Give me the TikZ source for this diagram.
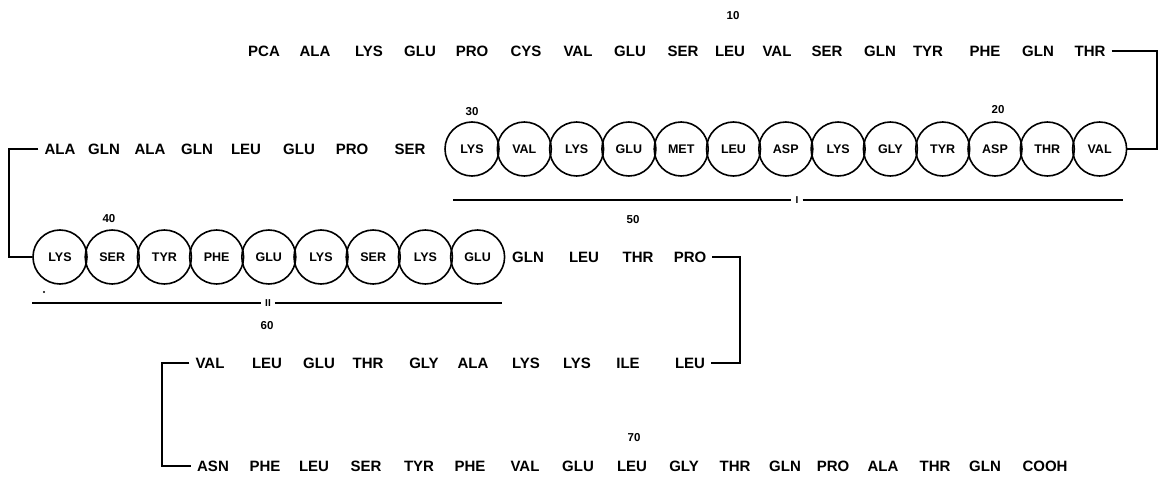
\documentclass[tikz,border=0pt]{standalone}
\usepackage{fontspec}
\setmainfont{Liberation Sans}
\begin{document}
\begin{tikzpicture}[x=1pt, y=-1pt,
  res/.style={inner xsep=6pt, inner ysep=0pt, text height=10.5pt, text depth=0pt,
    font=\fontsize{15}{15}\selectfont\bfseries},
  hel/.style={draw, circle, line width=1.6pt, minimum size=54pt, inner sep=0pt,
    text height=9pt, text depth=0pt, font=\fontsize{12.5}{12.5}\selectfont\bfseries},
  num/.style={inner sep=0pt, font=\fontsize{11.5}{11.5}\selectfont\bfseries},
  tag/.style={inner xsep=4pt, inner ysep=0pt, font=\fontsize{10}{10}\selectfont\bfseries},
  link/.style={line width=1.8pt}]

\useasboundingbox (0,0) rectangle (1158,481);

%ROW 1
\node[res] (r1) at (264,51) {PCA};
\node[res] (r2) at (315,51) {ALA};
\node[res] (r3) at (369,51) {LYS};
\node[res] (r4) at (420,51) {GLU};
\node[res] (r5) at (472,51) {PRO};
\node[res] (r6) at (526,51) {CYS};
\node[res] (r7) at (578,51) {VAL};
\node[res] (r8) at (630,51) {GLU};
\node[res] (r9) at (683,51) {SER};
\node[res] (r10) at (730,51) {LEU};
\node[res] (r11) at (777,51) {VAL};
\node[res] (r12) at (827,51) {SER};
\node[res] (r13) at (880,51) {GLN};
\node[res] (r14) at (928,51) {TYR};
\node[res] (r15) at (985,51) {PHE};
\node[res] (r16) at (1038,51) {GLN};
\node[res] (r17) at (1090,51) {THR};

%ROW 2 (helix I)
\node[hel] (r18) at (1099.6,149) {VAL};
\node[hel] (r19) at (1047.3,149) {THR};
\node[hel] (r20) at (995,149) {ASP};
\node[hel] (r21) at (942.7,149) {TYR};
\node[hel] (r22) at (890.4,149) {GLY};
\node[hel] (r23) at (838.1,149) {LYS};
\node[hel] (r24) at (785.8,149) {ASP};
\node[hel] (r25) at (733.5,149) {LEU};
\node[hel] (r26) at (681.2,149) {MET};
\node[hel] (r27) at (628.9,149) {GLU};
\node[hel] (r28) at (576.6,149) {LYS};
\node[hel] (r29) at (524.3,149) {VAL};
\node[hel] (r30) at (472,149) {LYS};
\node[res] (r31) at (410,149) {SER};
\node[res] (r32) at (352,149) {PRO};
\node[res] (r33) at (299,149) {GLU};
\node[res] (r34) at (246,149) {LEU};
\node[res] (r35) at (197,149) {GLN};
\node[res] (r36) at (150,149) {ALA};
\node[res] (r37) at (104,149) {GLN};
\node[res] (r38) at (60,149) {ALA};

%ROW 3 (helix II)
\node[hel] (r39) at (60,257) {LYS};
\node[hel] (r40) at (112.2,257) {SER};
\node[hel] (r41) at (164.4,257) {TYR};
\node[hel] (r42) at (216.6,257) {PHE};
\node[hel] (r43) at (268.8,257) {GLU};
\node[hel] (r44) at (321,257) {LYS};
\node[hel] (r45) at (373.2,257) {SER};
\node[hel] (r46) at (425.4,257) {LYS};
\node[hel] (r47) at (477.6,257) {GLU};
\node[res] (r48) at (528,257) {GLN};
\node[res] (r49) at (584,257) {LEU};
\node[res] (r50) at (638,257) {THR};
\node[res] (r51) at (690,257) {PRO};

%ROW 4
\node[res] (r52) at (690,363) {LEU};
\node[res] (r53) at (628,363) {ILE};
\node[res] (r54) at (577,363) {LYS};
\node[res] (r55) at (526,363) {LYS};
\node[res] (r56) at (473,363) {ALA};
\node[res] (r57) at (424,363) {GLY};
\node[res] (r58) at (368,363) {THR};
\node[res] (r59) at (319,363) {GLU};
\node[res] (r60) at (267,363) {LEU};
\node[res] (r61) at (210,363) {VAL};

%ROW 5
\node[res] (r62) at (213,466) {ASN};
\node[res] (r63) at (265,466) {PHE};
\node[res] (r64) at (314,466) {LEU};
\node[res] (r65) at (366,466) {SER};
\node[res] (r66) at (419,466) {TYR};
\node[res] (r67) at (470,466) {PHE};
\node[res] (r68) at (525,466) {VAL};
\node[res] (r69) at (578,466) {GLU};
\node[res] (r70) at (632,466) {LEU};
\node[res] (r71) at (684,466) {GLY};
\node[res] (r72) at (735,466) {THR};
\node[res] (r73) at (785,466) {GLN};
\node[res] (r74) at (833,466) {PRO};
\node[res] (r75) at (883,466) {ALA};
\node[res] (r76) at (935,466) {THR};
\node[res] (r77) at (985,466) {GLN};
\node[res] (cooh) at (1045,466) {COOH};

%NUMBERS
\node[num] (n10) at (733,16) {10};
\node[num] (n20) at (998,110) {20};
\node[num] (n30) at (472,112) {30};
\node[num] (n40) at (109,219) {40};
\node[num] (n50) at (633,220) {50};
\node[num] (n60) at (267,326) {60};
\node[num] (n70) at (634,438) {70};

%TURNS
\coordinate (t1) at (1157,51);
\coordinate (t2) at (1157,149);
\coordinate (t3) at (9,149);
\coordinate (t4) at (9,257);
\coordinate (t5) at (740,257);
\coordinate (t6) at (740,363);
\coordinate (t7) at (162,363);
\coordinate (t8) at (162,466);

\draw[link] (r17.east) -- (t1) -- (t2) -- (r18.east);
\draw[link] (r38.west) -- (t3) -- (t4) -- (r39.west);
\draw[link] (r51.east) -- (t5) -- (t6) -- (r52.east);
\draw[link] (r61.west) -- (t7) -- (t8) -- (r62.west);

%HELIX BARS
\node[tag] (h1) at (797,200) {I};
\node[tag] (h2) at (268,303) {II};
\coordinate (b1) at (453,200);
\coordinate (b2) at (1123,200);
\coordinate (b3) at (32,303);
\coordinate (b4) at (502,303);
\draw[line width=1.5pt] (b1) -- (h1.west);
\draw[line width=1.5pt] (h1.east) -- (b2);
\draw[line width=1.5pt] (b3) -- (h2.west);
\draw[line width=1.5pt] (h2.east) -- (b4);

\fill (44,292) circle [radius=1.2pt];

\end{tikzpicture}
\end{document}
